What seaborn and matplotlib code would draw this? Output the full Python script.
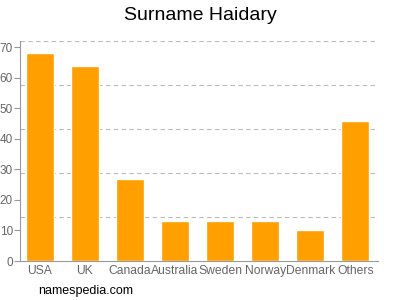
import matplotlib
matplotlib.use("Agg")
import matplotlib.pyplot as plt
import seaborn as sns
import pandas as pd
import numpy as np

countries = ["USA", "UK", "Canada", "Australia", "Sweden", "Norway", "Denmark", "Others"]
counts = [68, 64, 27, 13, 13, 13, 10, 46]
yticks = [0, 10, 20, 30, 40, 50, 60, 70]

sns.set_style("white")
plt.rcParams['font.family'] = ['Liberation Sans', 'DejaVu Sans']

df = pd.DataFrame({"country": countries, "count": counts})
fig = plt.figure(figsize=(4, 3), dpi=100)
ax = fig.add_axes([0.05, 0.13, 0.895, 0.733])
sns.barplot(data=df, x="country", y="count", color="#ffa000", saturation=1,
            width=0.62, ax=ax, zorder=3)
ymax = 72
ax.set_ylim(0, ymax)
ax.set_xlim(-0.44, 7.5)
for g in np.linspace(0, ymax, 6)[1:]:
    ax.axhline(g, color="#bbbbbb", linestyle=(0, (4, 3)), linewidth=0.8, zorder=1)
ax.set_yticks(yticks)
ax.tick_params(axis="y", length=4, width=0.8, color="#999999", labelsize=8.5, labelcolor="#666666", pad=1, direction="out", left=True)
ax.tick_params(axis="x", length=0, labelsize=8.7, labelcolor="#666666", pad=3)
ax.set_xlabel("")
ax.set_ylabel("")
for s in ["top", "right"]:
    ax.spines[s].set_visible(False)
for s in ["left", "bottom"]:
    ax.spines[s].set_color("#999999")
    ax.spines[s].set_linewidth(0.8)
fig.text(0.5, 0.948, "Surname Haidary", ha="center", va="center", fontsize=14, color="#000000")
fig.text(0.095, 0.03, "namespedia.com", ha="left", va="center", fontsize=9, color="#000000")
fig.savefig("out.png", dpi=100)
